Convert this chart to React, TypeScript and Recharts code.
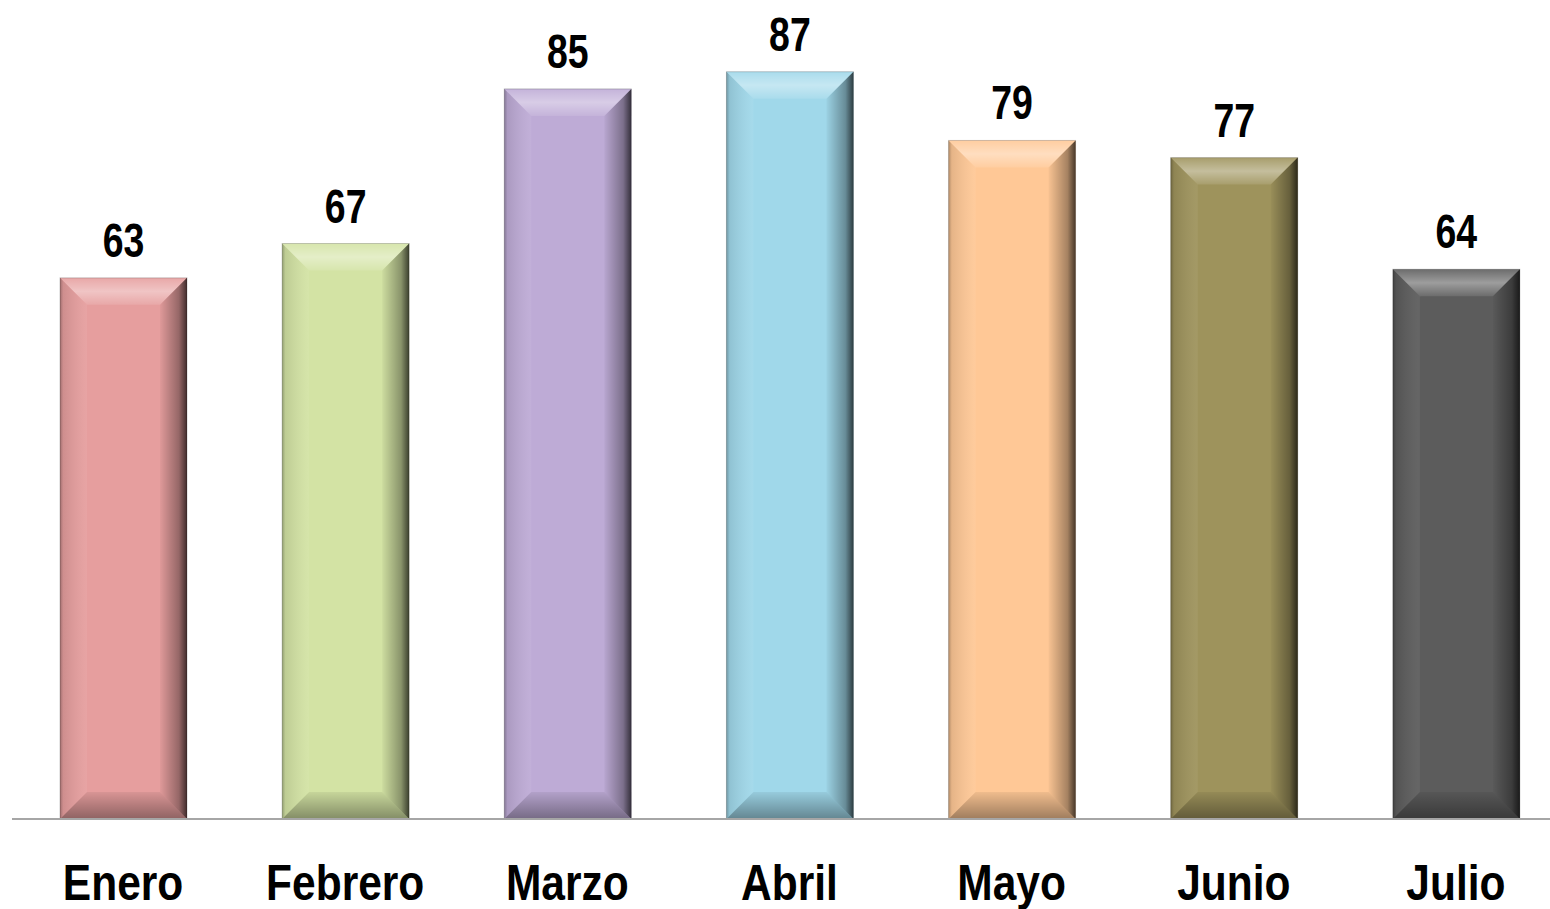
import React from "react";
import { BarChart, Bar, XAxis, YAxis, LabelList, Cell } from "recharts";

const months = ["Enero", "Febrero", "Marzo", "Abril", "Mayo", "Junio", "Julio"];
const values = [63, 67, 85, 87, 79, 77, 64];
const colors = ["#E69E9E", "#D3E3A4", "#BEABD6", "#A0D8EA", "#FFC896", "#9E935C", "#5C5C5C"];

const data = months.map((m, i) => ({ month: m, value: values[i] }));

const FONT = "'Liberation Sans', Arial, sans-serif";

const BevelBar = (props: any) => {
  const { x, y, width, height, fill } = props;
  if (!height || height <= 0) return null;
  const b = Math.min(27, width / 2, height / 2);
  const x2 = x + width;
  const y2 = y + height;
  return (
    <g>
      <rect x={x} y={y} width={width} height={height} fill={fill} />
      <polygon
        points={`${x},${y} ${x2},${y} ${x2 - b},${y + b} ${x + b},${y + b}`}
        fill="url(#bevTop)"
      />
      <polygon
        points={`${x},${y} ${x + b},${y + b} ${x + b},${y2 - b} ${x},${y2}`}
        fill="url(#bevLeft)"
      />
      <polygon
        points={`${x2},${y} ${x2},${y2} ${x2 - b},${y2 - b} ${x2 - b},${y + b}`}
        fill="url(#bevRight)"
      />
      <polygon
        points={`${x},${y2} ${x + b},${y2 - b} ${x2 - b},${y2 - b} ${x2},${y2}`}
        fill="url(#bevBottom)"
      />
      <rect x={x} y={y} width={width} height={height} fill="none" stroke="rgba(0,0,0,0.2)" strokeWidth={1} />
    </g>
  );
};

const MonthTick = (props: any) => {
  const { x, y, payload } = props;
  return (
    <text
      transform={`translate(${x},${y + 81}) scale(0.85,1)`}
      x={0}
      y={0}
      textAnchor="middle"
      fontFamily={FONT}
      fontWeight="bold"
      fontSize={50}
      fill="#000"
    >
      {payload.value}
    </text>
  );
};

const ValueLabel = (props: any) => {
  const { x, y, width, value } = props;
  const cx = x + width / 2;
  return (
    <text
      transform={`translate(${cx},${y - 21}) scale(0.78,1)`}
      x={0}
      y={0}
      textAnchor="middle"
      fontFamily={FONT}
      fontWeight="bold"
      fontSize={48}
      fill="#000"
    >
      {value}
    </text>
  );
};

export default function App() {
  return (
    <div style={{ position: "absolute", left: 0, top: 0, width: 1550, height: 909, overflow: "hidden", background: "#fff" }}>
      <BarChart
        width={1568}
        height={909}
        data={data}
        margin={{ top: 3, right: 1, bottom: 0, left: 12 }}
      >
        <defs>
          <linearGradient id="bevTop" x1="0" y1="0" x2="0" y2="1">
            <stop offset="0%" stopColor="#ffffff" stopOpacity={0.1} />
            <stop offset="50%" stopColor="#ffffff" stopOpacity={0.4} />
            <stop offset="100%" stopColor="#ffffff" stopOpacity={0.1} />
          </linearGradient>
          <linearGradient id="bevLeft" x1="0" y1="0" x2="1" y2="0">
            <stop offset="0%" stopColor="#000000" stopOpacity={0.3} />
            <stop offset="12%" stopColor="#000000" stopOpacity={0.1} />
            <stop offset="100%" stopColor="#ffffff" stopOpacity={0.06} />
          </linearGradient>
          <linearGradient id="bevRight" x1="0" y1="0" x2="1" y2="0">
            <stop offset="0%" stopColor="#000000" stopOpacity={0.03} />
            <stop offset="70%" stopColor="#000000" stopOpacity={0.35} />
            <stop offset="100%" stopColor="#000000" stopOpacity={0.72} />
          </linearGradient>
          <linearGradient id="bevBottom" x1="0" y1="0" x2="0" y2="1">
            <stop offset="0%" stopColor="#000000" stopOpacity={0.06} />
            <stop offset="100%" stopColor="#000000" stopOpacity={0.38} />
          </linearGradient>
        </defs>
        <XAxis
          dataKey="month"
          height={90}
          tickLine={false}
          tickSize={0}
          tickMargin={0}
          axisLine={{ stroke: "#A6A6A6", strokeWidth: 2 }}
          tick={<MonthTick />}
          interval={0}
        />
        <YAxis hide domain={[0, 95]} />
        <Bar dataKey="value" barSize={127} isAnimationActive={false} shape={<BevelBar />}>
          {data.map((d, i) => (
            <Cell key={d.month} fill={colors[i]} />
          ))}
          <LabelList dataKey="value" content={<ValueLabel />} />
        </Bar>
      </BarChart>
    </div>
  );
}
